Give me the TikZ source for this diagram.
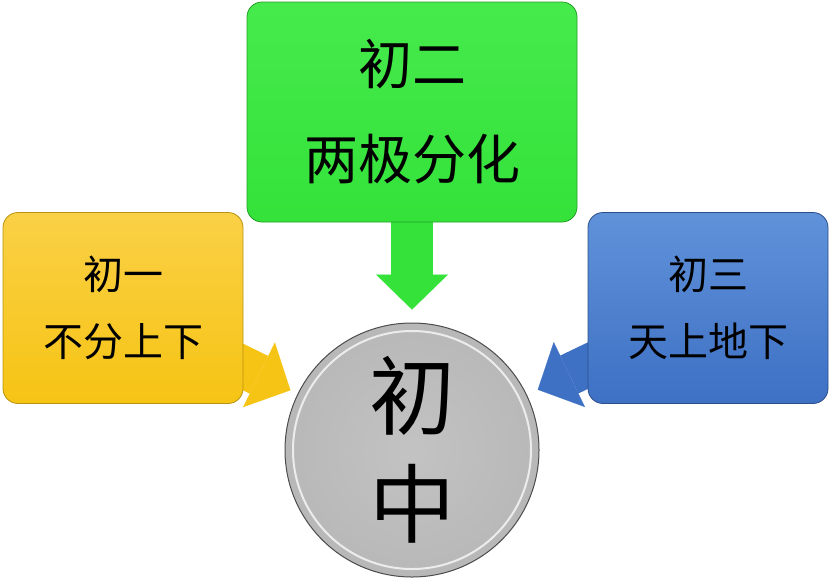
\documentclass[tikz,border=0pt]{standalone}
\usepackage{fontspec}
\newfontfamily\cjk{Noto Sans CJK SC}
\usepackage{tikz}
\usetikzlibrary{positioning,shapes,backgrounds,arrows.meta}

\definecolor{boxyellow}{RGB}{246,196,20}
\definecolor{boxyellowtop}{RGB}{250,208,70}
\definecolor{boxgreen}{RGB}{52,226,58}
\definecolor{boxgreentop}{RGB}{70,234,76}
\definecolor{boxblue}{RGB}{62,112,196}
\definecolor{boxbluetop}{RGB}{96,146,218}
\definecolor{coregray}{RGB}{184,184,184}

\tikzset{
  stage/.style={rectangle, rounded corners=15pt, inner sep=0pt, align=center,
    line width=0.8pt, minimum width=240pt, minimum height=191pt},
  block arrow/.style={line width=42pt, shorten >=#1,
    -{Triangle[length=35pt, width=72pt, line width=0.1pt]}}
}

\begin{document}
\begin{tikzpicture}[x=1pt, y=-1pt]

\useasboundingbox (0,0) rectangle (834,579);

\node (grade2) [stage, minimum width=330pt, minimum height=220pt, draw=boxgreen!70!black,
  top color=boxgreentop, bottom color=boxgreen,
  font=\cjk\fontsize{54}{95}\selectfont] at (412,112) {初二\\两极分化};

\node (grade1) [stage, draw=boxyellow!75!black, top color=boxyellowtop, bottom color=boxyellow,
  font=\cjk\fontsize{40}{67}\selectfont] at (123,308) {初一\\不分上下};

\node (grade3) [stage, draw=boxblue!70!black, top color=boxbluetop, bottom color=boxblue,
  font=\cjk\fontsize{40}{67}\selectfont] at (708,308) {初三\\天上地下};

\node (core) [circle, minimum size=254pt, inner sep=0pt, align=center, line width=1pt,
  draw=gray!60!black, inner color=coregray!85!white, outer color=coregray,
  font=\cjk\fontsize{86}{108}\selectfont] at (412,450) {初\\中};
\draw [white!85!gray, line width=2pt] (core.center) circle (119pt);

\begin{scope}[on background layer]
  \draw [block arrow=13pt, boxgreen] (grade2.center) -- (core);
  \draw [block arrow=8pt, boxyellow] (grade1.center) -- (core);
  \draw [block arrow=12pt, boxblue] (grade3.center) -- (core);
\end{scope}

\end{tikzpicture}
\end{document}
